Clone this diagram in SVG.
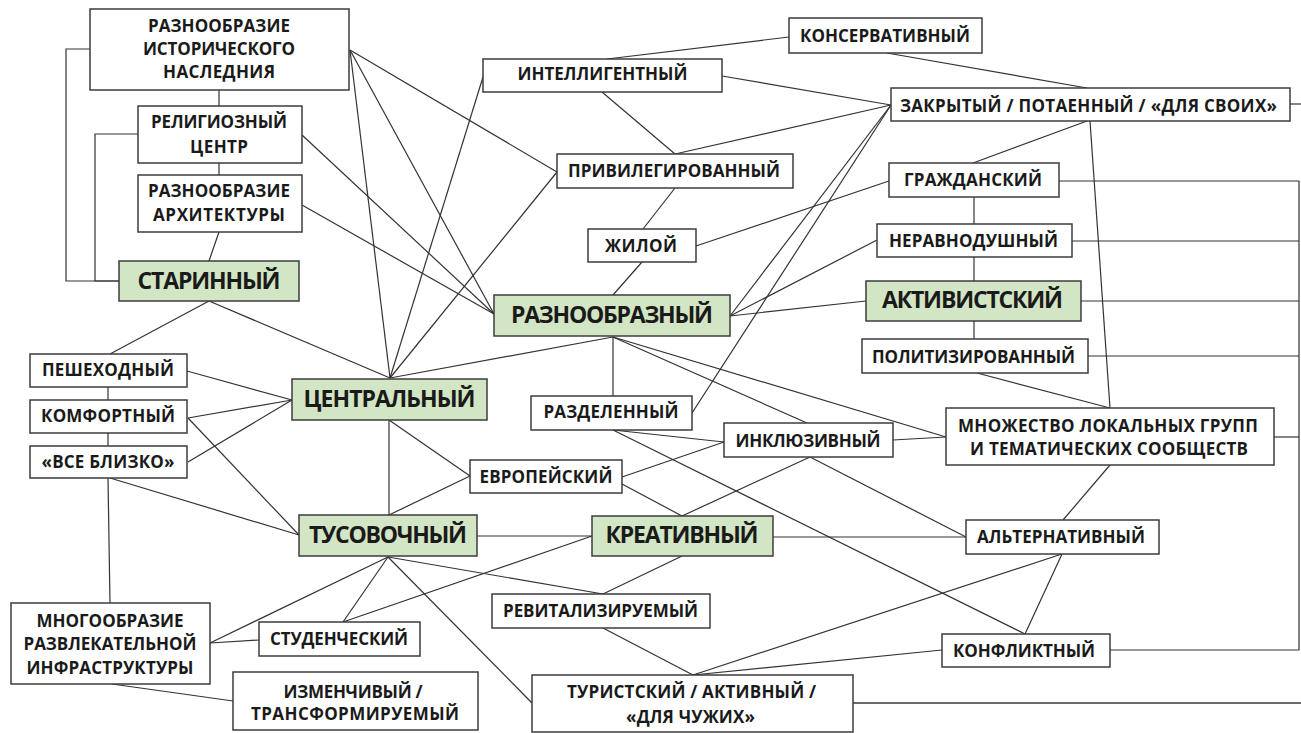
<svg xmlns="http://www.w3.org/2000/svg" width="1301" height="733" viewBox="0 0 1301 733">
<style>
.b{fill:#fff;stroke:#3c3c3c;stroke-width:1.5}
.g{fill:#d2e5c4;stroke:#3c3c3c;stroke-width:1.5}
text{font-family:"Open Sans","DejaVu Sans",sans-serif;font-weight:bold;fill:#1a1a1a;text-anchor:middle}
.s{font-size:17px}
.L{font-size:23px}
#conn line,#conn polyline{stroke:#333;stroke-width:1.2;fill:none}
</style>
<rect width="1301" height="733" fill="#fff"/>
<g id="conn">
<polyline points="90,49 66,49 66,281 119,281"/>
<polyline points="138,134 95,134 95,281 119,281"/>
<line x1="219" y1="90" x2="219" y2="106"/>
<line x1="219" y1="163" x2="219" y2="175"/>
<line x1="219" y1="232" x2="209" y2="261"/>
<line x1="350" y1="50" x2="557" y2="172"/>
<line x1="350" y1="50" x2="494" y2="314"/>
<line x1="350" y1="50" x2="390" y2="378"/>
<line x1="302" y1="135" x2="494" y2="314"/>
<line x1="302" y1="205" x2="494" y2="314"/>
<line x1="209" y1="301" x2="390" y2="378"/>
<line x1="209" y1="301" x2="110" y2="354"/>
<line x1="108" y1="387" x2="108" y2="400"/>
<line x1="108" y1="433" x2="108" y2="446"/>
<line x1="108" y1="478" x2="110" y2="603"/>
<line x1="187" y1="371" x2="292" y2="400"/>
<line x1="188" y1="418" x2="292" y2="400"/>
<line x1="188" y1="462" x2="292" y2="400"/>
<line x1="188" y1="418" x2="299" y2="535"/>
<line x1="110" y1="478" x2="299" y2="535"/>
<line x1="483" y1="77" x2="390" y2="378"/>
<line x1="557" y1="172" x2="390" y2="378"/>
<line x1="613" y1="337" x2="390" y2="378"/>
<line x1="789" y1="37" x2="607" y2="59"/>
<line x1="887" y1="53" x2="1087" y2="88"/>
<line x1="722" y1="76" x2="891" y2="105"/>
<line x1="602" y1="92" x2="675" y2="154"/>
<line x1="675" y1="154" x2="891" y2="105"/>
<line x1="675" y1="188" x2="643" y2="229"/>
<line x1="696" y1="246" x2="889" y2="181"/>
<line x1="642" y1="262" x2="613" y2="295"/>
<line x1="891" y1="105" x2="730" y2="316"/>
<line x1="891" y1="105" x2="692" y2="413"/>
<line x1="1290" y1="104" x2="1301" y2="104"/>
<line x1="1087" y1="121" x2="973" y2="163"/>
<line x1="1090" y1="121" x2="1110" y2="408"/>
<line x1="974" y1="197" x2="974" y2="224"/>
<line x1="974" y1="257" x2="974" y2="281"/>
<line x1="974" y1="321" x2="974" y2="339"/>
<line x1="977" y1="373" x2="1110" y2="408"/>
<line x1="877" y1="240" x2="730" y2="316"/>
<line x1="866" y1="301" x2="730" y2="316"/>
<polyline points="1059,181 1299,181 1299,650 1110,650"/>
<line x1="1072" y1="241" x2="1299" y2="241"/>
<line x1="1081" y1="301" x2="1299" y2="301"/>
<line x1="1088" y1="356" x2="1299" y2="356"/>
<line x1="1274" y1="437" x2="1299" y2="437"/>
<line x1="613" y1="337" x2="613" y2="396"/>
<line x1="613" y1="337" x2="807" y2="423"/>
<line x1="613" y1="337" x2="946" y2="437"/>
<line x1="893" y1="440" x2="946" y2="437"/>
<line x1="613" y1="430" x2="724" y2="442"/>
<line x1="613" y1="430" x2="1025" y2="634"/>
<line x1="622" y1="477" x2="724" y2="442"/>
<line x1="622" y1="484" x2="682" y2="516"/>
<line x1="810" y1="457" x2="682" y2="516"/>
<line x1="810" y1="457" x2="966" y2="537"/>
<line x1="1110" y1="465" x2="1063" y2="520"/>
<line x1="389" y1="420" x2="389" y2="515"/>
<line x1="389" y1="420" x2="470" y2="476"/>
<line x1="470" y1="476" x2="389" y2="515"/>
<line x1="477" y1="536" x2="592" y2="536"/>
<line x1="773" y1="537" x2="966" y2="537"/>
<line x1="388" y1="557" x2="210" y2="643"/>
<line x1="388" y1="557" x2="343" y2="622"/>
<line x1="388" y1="557" x2="603" y2="594"/>
<line x1="388" y1="557" x2="532" y2="703"/>
<line x1="592" y1="536" x2="343" y2="622"/>
<line x1="210" y1="643" x2="259" y2="640"/>
<line x1="112" y1="684" x2="233" y2="701"/>
<line x1="682" y1="556" x2="603" y2="594"/>
<line x1="603" y1="628" x2="693" y2="675"/>
<line x1="693" y1="675" x2="1062" y2="554"/>
<line x1="693" y1="675" x2="942" y2="650"/>
<line x1="1062" y1="554" x2="1025" y2="634"/>
<line x1="853" y1="703" x2="1301" y2="703" style="stroke:#6a6a6a;stroke-width:2"/>
</g>
<g id="n-ist"><rect class="b" x="90" y="9" width="259" height="81"/>
<text class="s" x="219" y="32" textLength="142" lengthAdjust="spacing">РАЗНООБРАЗИЕ</text>
<text class="s" x="219" y="55" textLength="152" lengthAdjust="spacing">ИСТОРИЧЕСКОГО</text>
<text class="s" x="219" y="78" textLength="112" lengthAdjust="spacing">НАСЛЕДНИЯ</text></g>
<g id="n-relig"><rect class="b" x="138" y="106" width="164" height="57"/>
<text class="s" x="219" y="128" textLength="136" lengthAdjust="spacing">РЕЛИГИОЗНЫЙ</text>
<text class="s" x="219" y="153" textLength="58" lengthAdjust="spacing">ЦЕНТР</text></g>
<g id="n-arch"><rect class="b" x="138" y="175" width="164" height="57"/>
<text class="s" x="219" y="197" textLength="142" lengthAdjust="spacing">РАЗНООБРАЗИЕ</text>
<text class="s" x="219" y="221" textLength="132" lengthAdjust="spacing">АРХИТЕКТУРЫ</text></g>
<g id="n-starin"><rect class="g" x="119" y="261" width="180" height="40"/>
<text class="L" x="209" y="289" textLength="143" lengthAdjust="spacing">СТАРИННЫЙ</text></g>
<g id="n-pesh"><rect class="b" x="30" y="354" width="157" height="33"/>
<text class="s" x="108" y="376" textLength="132" lengthAdjust="spacing">ПЕШЕХОДНЫЙ</text></g>
<g id="n-komf"><rect class="b" x="30" y="400" width="157" height="33"/>
<text class="s" x="108" y="422" textLength="134" lengthAdjust="spacing">КОМФОРТНЫЙ</text></g>
<g id="n-blizko"><rect class="b" x="30" y="446" width="157" height="32"/>
<text class="s" x="108" y="468" textLength="133" lengthAdjust="spacing">«ВСЕ БЛИЗКО»</text></g>
<g id="n-centr"><rect class="g" x="292" y="379" width="195" height="41"/>
<text class="L" x="389.5" y="407" textLength="172" lengthAdjust="spacing">ЦЕНТРАЛЬНЫЙ</text></g>
<g id="n-intel"><rect class="b" x="483" y="59" width="239" height="33"/>
<text class="s" x="602.5" y="80" textLength="170" lengthAdjust="spacing">ИНТЕЛЛИГЕНТНЫЙ</text></g>
<g id="n-kons"><rect class="b" x="789" y="18" width="193" height="35"/>
<text class="s" x="885" y="42" textLength="170" lengthAdjust="spacing">КОНСЕРВАТИВНЫЙ</text></g>
<g id="n-priv"><rect class="b" x="557" y="154" width="236" height="34"/>
<text class="s" x="674" y="177" textLength="212" lengthAdjust="spacing">ПРИВИЛЕГИРОВАННЫЙ</text></g>
<g id="n-jiloy"><rect class="b" x="588" y="229" width="108" height="33"/>
<text class="s" x="641" y="252" textLength="72" lengthAdjust="spacing">ЖИЛОЙ</text></g>
<g id="n-zakr"><rect class="b" x="891" y="88" width="399" height="33"/>
<text class="s" x="1088.5" y="112" textLength="377" lengthAdjust="spacing">ЗАКРЫТЫЙ / ПОТАЕННЫЙ / «ДЛЯ СВОИХ»</text></g>
<g id="n-grazh"><rect class="b" x="889" y="163" width="170" height="34"/>
<text class="s" x="973" y="186" textLength="138" lengthAdjust="spacing">ГРАЖДАНСКИЙ</text></g>
<g id="n-nerav"><rect class="b" x="877" y="224" width="195" height="33"/>
<text class="s" x="973.5" y="247" textLength="169" lengthAdjust="spacing">НЕРАВНОДУШНЫЙ</text></g>
<g id="n-aktiv"><rect class="g" x="866" y="281" width="215" height="40"/>
<text class="L" x="972.5" y="308" textLength="181" lengthAdjust="spacing">АКТИВИСТСКИЙ</text></g>
<g id="n-polit"><rect class="b" x="862" y="339" width="226" height="34"/>
<text class="s" x="973.5" y="363" textLength="203" lengthAdjust="spacing">ПОЛИТИЗИРОВАННЫЙ</text></g>
<g id="n-mnozh"><rect class="b" x="946" y="408" width="328" height="57"/>
<text class="s" x="1108" y="432" textLength="300" lengthAdjust="spacing">МНОЖЕСТВО ЛОКАЛЬНЫХ ГРУПП</text>
<text class="s" x="1109" y="455" textLength="278" lengthAdjust="spacing">И ТЕМАТИЧЕСКИХ СООБЩЕСТВ</text></g>
<g id="n-razn"><rect class="g" x="494" y="295" width="236" height="41"/>
<text class="L" x="612" y="323" textLength="202" lengthAdjust="spacing">РАЗНООБРАЗНЫЙ</text></g>
<g id="n-razdel"><rect class="b" x="531" y="396" width="161" height="34"/>
<text class="s" x="611" y="418" textLength="135" lengthAdjust="spacing">РАЗДЕЛЕННЫЙ</text></g>
<g id="n-inkl"><rect class="b" x="724" y="423" width="169" height="34"/>
<text class="s" x="808" y="447" textLength="145" lengthAdjust="spacing">ИНКЛЮЗИВНЫЙ</text></g>
<g id="n-evrop"><rect class="b" x="470" y="460" width="152" height="33"/>
<text class="s" x="546" y="483" textLength="133" lengthAdjust="spacing">ЕВРОПЕЙСКИЙ</text></g>
<g id="n-tusov"><rect class="g" x="299" y="515" width="178" height="41"/>
<text class="L" x="388" y="543" textLength="158" lengthAdjust="spacing">ТУСОВОЧНЫЙ</text></g>
<g id="n-kreat"><rect class="g" x="592" y="516" width="181" height="40"/>
<text class="L" x="682" y="543" textLength="153" lengthAdjust="spacing">КРЕАТИВНЫЙ</text></g>
<g id="n-alt"><rect class="b" x="966" y="520" width="193" height="34"/>
<text class="s" x="1061" y="543" textLength="168" lengthAdjust="spacing">АЛЬТЕРНАТИВНЫЙ</text></g>
<g id="n-konfl"><rect class="b" x="942" y="634" width="168" height="33"/>
<text class="s" x="1024" y="657" textLength="142" lengthAdjust="spacing">КОНФЛИКТНЫЙ</text></g>
<g id="n-revit"><rect class="b" x="492" y="594" width="218" height="34"/>
<text class="s" x="600.5" y="617" textLength="195" lengthAdjust="spacing">РЕВИТАЛИЗИРУЕМЫЙ</text></g>
<g id="n-turist"><rect class="b" x="532" y="675" width="321" height="57"/>
<text class="s" x="691.5" y="698" textLength="249" lengthAdjust="spacing">ТУРИСТСКИЙ / АКТИВНЫЙ /</text>
<text class="s" x="690.5" y="723" textLength="129" lengthAdjust="spacing">«ДЛЯ ЧУЖИХ»</text></g>
<g id="n-mnogo"><rect class="b" x="11" y="603" width="199" height="81"/>
<text class="s" x="110" y="627" textLength="147" lengthAdjust="spacing">МНОГООБРАЗИЕ</text>
<text class="s" x="110" y="650" textLength="173" lengthAdjust="spacing">РАЗВЛЕКАТЕЛЬНОЙ</text>
<text class="s" x="110" y="674" textLength="167" lengthAdjust="spacing">ИНФРАСТРУКТУРЫ</text></g>
<g id="n-stud"><rect class="b" x="259" y="622" width="161" height="34"/>
<text class="s" x="339" y="645" textLength="138" lengthAdjust="spacing">СТУДЕНЧЕСКИЙ</text></g>
<g id="n-izm"><rect class="b" x="233" y="672" width="245" height="58"/>
<text class="s" x="353" y="698" textLength="139" lengthAdjust="spacing">ИЗМЕНЧИВЫЙ /</text>
<text class="s" x="355" y="720" textLength="208" lengthAdjust="spacing">ТРАНСФОРМИРУЕМЫЙ</text></g>
</svg>
